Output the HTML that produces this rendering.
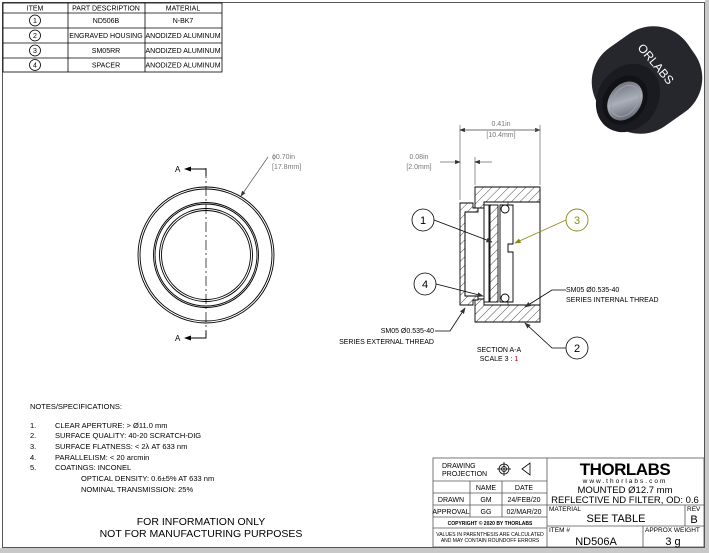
<!DOCTYPE html>
<html><head><meta charset="utf-8"><style>
html,body{margin:0;padding:0;background:#fff;}
svg{display:block;font-family:"Liberation Sans",sans-serif;}
</style></head><body>
<svg width="709" height="553" viewBox="0 0 709 553" xmlns="http://www.w3.org/2000/svg">
<defs>
<pattern id="h" width="6" height="6" patternUnits="userSpaceOnUse" patternTransform="rotate(45)"><rect width="6" height="6" fill="#fff"/><line x1="0" y1="0" x2="0" y2="6" stroke="#222" stroke-width="0.8"/></pattern>
<marker id="ar" markerWidth="8" markerHeight="6" refX="7" refY="3" orient="auto"><path d="M0,0 L8,3 L0,6z" fill="#333"/></marker>
<marker id="ag" markerWidth="8" markerHeight="6" refX="7" refY="3" orient="auto"><path d="M0,0 L8,3 L0,6z" fill="#8a8a1a"/></marker>
<linearGradient id="gl" x1="0" y1="0" x2="1" y2="1"><stop offset="0" stop-color="#5a5e68"/><stop offset="0.5" stop-color="#aab0ba"/><stop offset="1" stop-color="#4a4e58"/></linearGradient>
</defs>
<rect x="0" y="548" width="709" height="5" fill="#c8c8c8"/>
<rect x="705" y="0" width="4" height="553" fill="#c8c8c8"/>
<rect x="2.5" y="2.5" width="702" height="545" fill="#fff" stroke="#555" stroke-width="1"/>

<!-- parts table -->
<g stroke="#000" stroke-width="0.8" fill="none">
<rect x="3" y="3" width="219" height="69"/>
<line x1="3" y1="13" x2="222" y2="13"/><line x1="3" y1="28" x2="222" y2="28"/><line x1="3" y1="43" x2="222" y2="43"/><line x1="3" y1="58" x2="222" y2="58"/>
<line x1="68" y1="3" x2="68" y2="72"/><line x1="145" y1="3" x2="145" y2="72"/>
<circle cx="35" cy="20.5" r="5.5"/><circle cx="35" cy="35.5" r="5.5"/><circle cx="35" cy="50.5" r="5.5"/><circle cx="35" cy="65" r="5.5"/>
</g>
<g font-size="7" text-anchor="middle" fill="#000">
<text x="35" y="10.5">ITEM</text><text x="106" y="10.5">PART DESCRIPTION</text><text x="183" y="10.5">MATERIAL</text>
<text x="35" y="23">1</text><text x="35" y="38">2</text><text x="35" y="53">3</text><text x="35" y="67.5">4</text>
<text x="106" y="23">ND506B</text><text x="106" y="38">ENGRAVED HOUSING</text><text x="106" y="53">SM05RR</text><text x="106" y="67.5">SPACER</text>
<text x="183" y="23">N-BK7</text><text x="183" y="38">ANODIZED ALUMINUM</text><text x="183" y="53">ANODIZED ALUMINUM</text><text x="183" y="67.5">ANODIZED ALUMINUM</text>
</g>

<!-- photo -->
<g>
<rect x="593" y="32" width="108" height="96" rx="42" fill="#25272d" transform="rotate(-35 647 80)"/>
<ellipse cx="628" cy="98" rx="30" ry="36" transform="rotate(35 628 98)" fill="#1a1b20"/>
<ellipse cx="625" cy="100" rx="21" ry="26" transform="rotate(35 625 100)" fill="#111215"/>
<ellipse cx="625" cy="101" rx="16" ry="21" transform="rotate(35 625 101)" fill="url(#gl)"/>
<ellipse cx="625" cy="101" rx="12" ry="17" transform="rotate(35 625 101)" fill="none" stroke="#9aa0aa" stroke-width="1"/>
</g>
<text x="637" y="48" font-size="12" fill="#fff" transform="rotate(50 637 48)">ORLABS</text>

<!-- front view -->
<g fill="none" stroke="#000" stroke-width="0.9">
<circle cx="206" cy="255" r="68"/><circle cx="206" cy="255" r="66"/>
<circle cx="206" cy="255" r="52.5"/><circle cx="206" cy="255" r="51"/>
<circle cx="206" cy="255" r="46.5"/><circle cx="206" cy="255" r="44.5"/>
<line x1="206" y1="168" x2="206" y2="337" stroke-dasharray="10,3,2,3" stroke-width="0.7"/>
<polyline points="186,169 206,169 206,176"/><polyline points="186,338 206,338 206,331"/>
</g>
<path d="M184,169 l7,-2.5 v5z M184,338 l7,-2.5 v5z" fill="#000"/>
<text x="175" y="172" font-size="8">A</text><text x="175" y="341" font-size="8">A</text>
<line x1="268" y1="157" x2="241" y2="196" stroke="#555" stroke-width="0.7" marker-end="url(#ar)"/>
<text x="272" y="159" font-size="7" fill="#777">ϕ0.70in</text><text x="272" y="169" font-size="7" fill="#777">[17.8mm]</text>

<!-- section view -->
<g stroke="#000" stroke-width="0.9">
<path d="M475,187 H540 V202 H484 V208 H475z" fill="url(#h)"/>
<path d="M475,322 H540 V305 H484 V299 H475z" fill="url(#h)"/>
<line x1="540" y1="202" x2="540" y2="305"/>
<line x1="508" y1="202" x2="508" y2="305" stroke-width="0.6"/>
<path d="M460,203 H473 V208 H478 V212 H465 V296 H478 V300 H473 V305 H460z" fill="url(#h)"/>
<line x1="465" y1="212" x2="465" y2="296"/>
<rect x="484" y="205" width="5" height="97" fill="#fff"/>
<rect x="490" y="205" width="8" height="97" fill="url(#h)"/>
<path d="M500,205 H513 V244 H508 V252 H513 V302 H500z" fill="#fff"/>
<circle cx="505" cy="209" r="4" fill="#fff"/><circle cx="505" cy="298" r="4" fill="#fff"/>
</g>
<g stroke="#666" stroke-width="0.7" fill="none">
<line x1="460" y1="125" x2="460" y2="200"/><line x1="540" y1="125" x2="540" y2="185"/>
<line x1="460" y1="130" x2="540" y2="130" marker-end="url(#ar)"/><line x1="540" y1="130" x2="460" y2="130" marker-end="url(#ar)"/>
<line x1="475" y1="157" x2="475" y2="185"/>
<line x1="440" y1="162" x2="460" y2="162" marker-end="url(#ar)"/><line x1="492" y1="162" x2="475" y2="162" marker-end="url(#ar)"/>
</g>
<g font-size="7" fill="#777" text-anchor="middle">
<text x="501" y="126">0.41in</text><text x="501" y="137">[10.4mm]</text>
<text x="419" y="159">0.08in</text><text x="419" y="169">[2.0mm]</text>
</g>
<g stroke="#000" stroke-width="0.8" fill="#fff">
<line x1="434" y1="220" x2="492" y2="242" marker-end="url(#ar)"/>
<line x1="436" y1="284" x2="483" y2="296" marker-end="url(#ar)"/>
<polyline points="566,348 552,348 525,323" fill="none" marker-end="url(#ar)"/>
<polyline points="566,290 552,290 525,307" fill="none" marker-end="url(#ar)"/>
<polyline points="435,331 450,331 465,308" fill="none" marker-end="url(#ar)"/>
<circle cx="423" cy="220" r="11"/><circle cx="425" cy="284" r="11"/><circle cx="577" cy="348" r="11"/>
</g>
<line x1="566" y1="220" x2="515" y2="243" stroke="#8a8a1a" stroke-width="0.8" marker-end="url(#ag)"/>
<circle cx="577" cy="220" r="11" fill="#fff" stroke="#8a8a1a" stroke-width="0.9"/>
<g font-size="11" text-anchor="middle">
<text x="423" y="224">1</text><text x="425" y="288">4</text><text x="577" y="352">2</text><text x="577" y="224" fill="#8a8a1a">3</text>
</g>
<g font-size="7" fill="#000">
<text x="566" y="292">SM05 Ø0.535-40</text><text x="566" y="302">SERIES INTERNAL THREAD</text>
<text x="434" y="333" text-anchor="end">SM05 Ø0.535-40</text><text x="434" y="344" text-anchor="end">SERIES EXTERNAL THREAD</text>
<text x="499" y="352" text-anchor="middle">SECTION A-A</text><text x="499" y="361" text-anchor="middle">SCALE 3 : <tspan fill="#c00">1</tspan></text>
</g>

<!-- notes -->
<g font-size="7.5" fill="#000">
<text x="30" y="409">NOTES/SPECIFICATIONS:</text>
<text x="30" y="428">1.</text><text x="55" y="428">CLEAR APERTURE: &gt; Ø11.0 mm</text>
<text x="30" y="438">2.</text><text x="55" y="438">SURFACE QUALITY: 40-20 SCRATCH-DIG</text>
<text x="30" y="449">3.</text><text x="55" y="449">SURFACE FLATNESS: &lt; 2λ AT 633 nm</text>
<text x="30" y="460">4.</text><text x="55" y="460">PARALLELISM: &lt; 20 arcmin</text>
<text x="30" y="470">5.</text><text x="55" y="470">COATINGS: INCONEL</text>
<text x="81" y="481">OPTICAL DENSITY: 0.6±5% AT 633 nm</text>
<text x="81" y="492">NOMINAL TRANSMISSION: 25%</text>
</g>
<g font-size="10.5" text-anchor="middle"><text x="201" y="525">FOR INFORMATION ONLY</text><text x="201" y="537">NOT FOR MANUFACTURING PURPOSES</text></g>

<!-- title block -->
<g stroke="#555" stroke-width="0.8" fill="none">
<rect x="433" y="458" width="271" height="89"/>
<line x1="547" y1="458" x2="547" y2="547"/>
<line x1="433" y1="481" x2="547" y2="481"/><line x1="433" y1="493" x2="547" y2="493"/>
<line x1="433" y1="505" x2="704" y2="505"/><line x1="433" y1="517" x2="547" y2="517"/>
<line x1="433" y1="528" x2="547" y2="528"/><line x1="547" y1="526" x2="704" y2="526"/>
<line x1="470" y1="481" x2="470" y2="517"/><line x1="502" y1="481" x2="502" y2="517"/>
<line x1="685" y1="505" x2="685" y2="526"/><line x1="643" y1="526" x2="643" y2="547"/>
<circle cx="504" cy="469" r="5" stroke="#000"/><circle cx="504" cy="469" r="2.5" stroke="#000"/>
<line x1="497" y1="469" x2="511" y2="469" stroke="#000"/><line x1="504" y1="462" x2="504" y2="476" stroke="#000"/>
<path d="M522,469 L530,463 V475z" stroke="#000"/>
</g>
<g font-size="7" fill="#000">
<text x="442" y="468">DRAWING</text><text x="442" y="476">PROJECTION</text>
<text x="486" y="490" text-anchor="middle">NAME</text><text x="524" y="490" text-anchor="middle">DATE</text>
<text x="451" y="502" text-anchor="middle">DRAWN</text><text x="486" y="502" text-anchor="middle">GM</text><text x="524" y="502" text-anchor="middle">24/FEB/20</text>
<text x="451" y="514" text-anchor="middle">APPROVAL</text><text x="486" y="514" text-anchor="middle">GG</text><text x="524" y="514" text-anchor="middle">02/MAR/20</text>
<text x="490" y="525" text-anchor="middle" font-size="5" font-weight="bold">COPYRIGHT © 2020 BY THORLABS</text>
<text x="490" y="536" text-anchor="middle" font-size="5">VALUES IN PARENTHESIS ARE CALCULATED</text>
<text x="490" y="542" text-anchor="middle" font-size="5">AND MAY CONTAIN ROUNDOFF ERRORS</text>
<text x="549" y="511" font-size="6.5">MATERIAL</text><text x="687" y="511" font-size="6.5">REV</text>
<text x="549" y="532" font-size="6.5">ITEM #</text><text x="645" y="532" font-size="6.5">APPROX WEIGHT</text>
</g>
<text x="625" y="475" text-anchor="middle" font-size="17" font-weight="bold" letter-spacing="-0.5">THORLABS</text>
<text x="625" y="483" text-anchor="middle" font-size="6.5" letter-spacing="2">www.thorlabs.com</text>
<g font-size="9.5" text-anchor="middle">
<text x="625" y="493">MOUNTED Ø12.7 mm</text><text x="625" y="503">REFLECTIVE ND FILTER, OD: 0.6</text>
<text x="616" y="522" font-size="11">SEE TABLE</text><text x="694" y="523" font-size="11">B</text>
<text x="596" y="545" font-size="11">ND506A</text><text x="673" y="545" font-size="11">3 g</text>
</g>
</svg>
</body></html>
